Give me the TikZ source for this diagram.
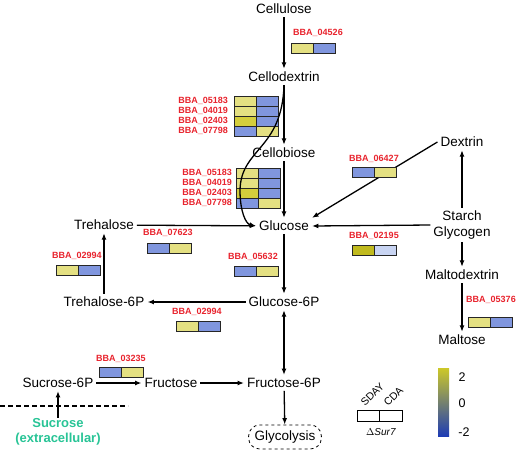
\documentclass[tikz,border=0pt]{standalone}
\usepackage{fontspec}
\setmainfont{Liberation Sans}
\usetikzlibrary{arrows.meta,calc}
\definecolor{lab}{RGB}{232,35,45}
\definecolor{ylw}{RGB}{228,224,130}
\definecolor{ylwd}{RGB}{212,206,60}
\definecolor{blu}{RGB}{128,150,222}
\definecolor{oliv}{RGB}{192,186,30}
\definecolor{lblu}{RGB}{200,212,242}
\definecolor{sucgreen}{RGB}{40,196,150}
\definecolor{cbY}{RGB}{205,200,40}
\definecolor{cbB}{RGB}{30,60,180}
\newcommand\hmpair[4]{%
  \filldraw[draw=black!85, line width=0.8pt, fill=#3] (#1,#2) rectangle ++(22,10);
  \filldraw[draw=black!85, line width=0.8pt, fill=#4] (#1+22,#2) rectangle ++(22,10);}
\begin{document}
\begin{tikzpicture}[x=1pt,y=-1pt,
  met/.style={font=\fontsize{13.5}{16}\selectfont, inner sep=3pt},
  lbl/.style={font=\fontsize{9}{10}\selectfont\bfseries, text=lab, inner sep=0pt},
  arr/.style={-{Latex[length=6.5pt,width=5pt]}, line width=1.3pt},
  darr/.style={{Latex[length=6.5pt,width=5pt]}-{Latex[length=6.5pt,width=5pt]}, line width=1.3pt}]
\useasboundingbox (0,0) rectangle (520,451);
% metabolites
\node[met] (cellulose) at (284,9) {Cellulose};
\node[met] (cellodextrin) at (284,77) {Cellodextrin};
\node[met] (cellobiose) at (284,153) {Cellobiose};
\node[met] (glucose) at (284,226) {Glucose};
\node[met] (dextrin) at (462,142) {Dextrin};
\node[met, align=center] (starch) at (462,225) {Starch\\Glycogen};
\node[met] (maltodextrin) at (462,275) {Maltodextrin};
\node[met] (maltose) at (462,340) {Maltose};
\node[met] (trehalose) at (104,225) {Trehalose};
\node[met] (tre6p) at (104,302) {Trehalose-6P};
\node[met] (g6p) at (284,302) {Glucose-6P};
\node[met] (f6p) at (284,383) {Fructose-6P};
\node[met] (suc6p) at (58,383) {Sucrose-6P};
\node[met] (fructose) at (171,383) {Fructose};
\node[met, draw, dashed, line width=0.8pt, rounded corners=11pt, minimum height=24pt, inner xsep=6pt] (glyc) at (285,437) {Glycolysis};
\node[font=\fontsize{13}{14.5}\selectfont\bfseries, text=sucgreen, align=center, inner sep=1pt] (sucrose) at (58,432) {Sucrose\\(extracellular)};
% connectors
\draw[arr] (cellulose) -- (cellodextrin);
\draw[arr] (cellodextrin) -- (cellobiose);
\draw[arr] (cellobiose) -- (glucose);
\draw[arr] (trehalose) -- (glucose);
\draw[arr] (dextrin.west) -- (glucose.north east);
\draw[arr] (starch.west) -- (glucose.east);
\draw[arr] (starch) -- (dextrin);
\draw[arr] (starch) -- (maltodextrin);
\draw[arr] (maltodextrin) -- (maltose);
\draw[arr] (glucose) -- (g6p);
\draw[arr] (g6p) -- (tre6p);
\draw[arr] (tre6p) -- (trehalose);
\draw[darr] (g6p) -- (f6p);
\draw[arr] (f6p) -- (glyc);
\draw[arr] (suc6p) -- (fructose);
\draw[arr] (fructose) -- (f6p);
\draw[arr] (sucrose) -- (suc6p);
\draw[line width=1.2pt, dash pattern=on 5pt off 3pt] (0,406) -- (128,406);
% heatmaps
\node[lbl] (l04526) at (318,33) {BBA\_04526};
\hmpair{291}{43}{ylw}{blu}
\node[lbl, anchor=east] (a05183) at (228,101) {BBA\_05183};
\node[lbl, anchor=east] (a04019) at (228,111) {BBA\_04019};
\node[lbl, anchor=east] (a02403) at (228,121) {BBA\_02403};
\node[lbl, anchor=east] (a07798) at (228,131) {BBA\_07798};
\hmpair{234}{96}{ylw}{blu}
\hmpair{234}{106}{ylw}{blu}
\hmpair{234}{116}{ylwd}{blu}
\hmpair{234}{126}{blu}{ylw}
\node[lbl, anchor=east] (b05183) at (232,173) {BBA\_05183};
\node[lbl, anchor=east] (b04019) at (232,183) {BBA\_04019};
\node[lbl, anchor=east] (b02403) at (232,193) {BBA\_02403};
\node[lbl, anchor=east] (b07798) at (232,203) {BBA\_07798};
\hmpair{236}{168}{ylw}{blu}
\hmpair{236}{178}{ylw}{blu}
\hmpair{236}{188}{ylwd}{blu}
\hmpair{236}{198}{blu}{ylw}
\node[lbl] (l06427) at (374,159) {BBA\_06427};
\hmpair{352}{167}{blu}{ylw}
\node[lbl] (l02195) at (374,236) {BBA\_02195};
\hmpair{352}{245}{oliv}{lblu}
\node[lbl] (l05376) at (491,300) {BBA\_05376};
\hmpair{468}{317}{ylw}{blu}
\node[lbl] (l07623) at (168,233) {BBA\_07623};
\hmpair{147}{243}{blu}{ylw}
\node[lbl] (l02994a) at (77,256) {BBA\_02994};
\hmpair{56}{265}{ylw}{blu}
\node[lbl] (l05632) at (253,257) {BBA\_05632};
\hmpair{234}{266}{blu}{ylw}
\node[lbl] (l02994b) at (197,312) {BBA\_02994};
\hmpair{176}{321}{ylw}{blu}
\node[lbl] (l03235) at (121,359) {BBA\_03235};
\hmpair{99}{367}{blu}{ylw}
% curve drawn over the heatmaps
\draw[arr] (cellodextrin.south) .. controls (282,150) and (241,148) .. (240,190) .. controls (240,212) and (246,224) .. (glucose.west);
% legend
\draw[line width=0.8pt] (357,410) rectangle (402,421);
\draw[line width=0.8pt] (379.5,410) -- (379.5,421);
\node[font=\fontsize{10.5}{11}\selectfont, rotate=45, anchor=base west, inner sep=0pt] (sday) at (365,407) {SDAY};
\node[font=\fontsize{10.5}{11}\selectfont, rotate=45, anchor=base west, inner sep=0pt] (cda) at (388,407) {CDA};
\node[font=\fontsize{10}{11}\selectfont, inner sep=0pt] (dsur) at (381,432) {$\Delta$\textit{Sur7}};
\shade[top color=cbY, middle color=white, bottom color=cbB] (438,368) rectangle (449,436);
\node[font=\fontsize{12.5}{13}\selectfont] (t2) at (462,377) {2};
\node[font=\fontsize{12.5}{13}\selectfont] (t0) at (462,403) {0};
\node[font=\fontsize{12.5}{13}\selectfont] (tm2) at (464,432) {-2};
\end{tikzpicture}
\end{document}
